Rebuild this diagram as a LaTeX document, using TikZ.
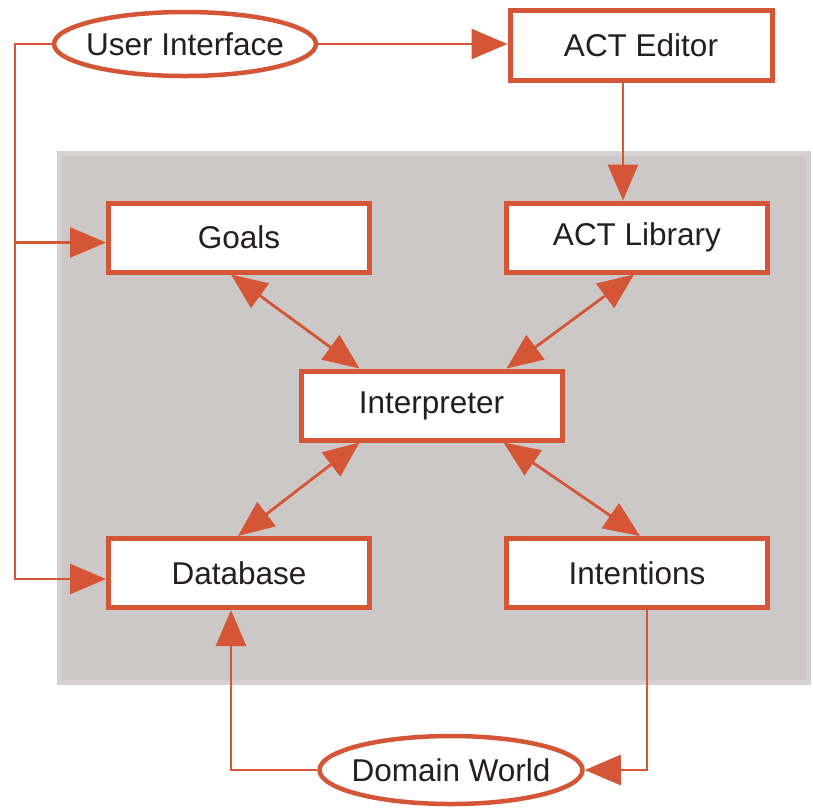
\documentclass[tikz,border=0pt]{standalone}
\usepackage{fontspec}
\setmainfont{Liberation Sans}
\usetikzlibrary{arrows.meta,calc,shapes.geometric}
\definecolor{ored}{RGB}{213,85,55}
\definecolor{grayin}{RGB}{204,200,199}
\definecolor{grayedge}{RGB}{213,209,208}
\definecolor{txt}{RGB}{35,31,32}
\newcommand{\ovaltext}[1]{\makebox[0pt]{#1}}
\tikzset{
  stepbox/.style={draw=ored, line width=5pt, fill=white, minimum width=261pt, minimum height=69pt, inner sep=0pt, text=txt, font=\fontsize{31.5}{36}\selectfont},
  ovalnode/.style={ellipse, draw=ored, line width=4.5pt, fill=white, minimum width=262pt, minimum height=64pt, inner sep=0pt, text=txt, font=\fontsize{31.5}{36}\selectfont},
  conn/.style={draw=ored, line width=2.8pt},
  tipr/.style={-{Triangle[length=36pt,width=30pt]}},
  tipb/.style={{Triangle[length=36pt,width=30pt]}-{Triangle[length=36pt,width=30pt]}}
}
\begin{document}
\begin{tikzpicture}[x=1pt,y=-1pt]
\useasboundingbox (0,0) rectangle (813,807);
\fill[grayedge] (57,151) rectangle (811,685);
\fill[grayin] (62,156) rectangle (806,680);

\node[ovalnode] (ui) at (185,44) {\ovaltext{User Interface}};
\node[stepbox, minimum width=262pt, minimum height=70pt] (editor) at (641,45) {ACT Editor};
\node[stepbox] (goals) at (239,237.5) {Goals};
\node[stepbox] (library) at (637,237.5) {ACT Library};
\node[stepbox] (interp) at (431.5,405.5) {Interpreter};
\node[stepbox] (db) at (239,573) {Database};
\node[stepbox] (intentions) at (637,573) {Intentions};
\node[ovalnode, minimum width=263pt, minimum height=68pt] (dw) at (451,770) {\ovaltext{Domain World}};

\coordinate (bus) at (15,44);
\coordinate (gIn) at ($(goals.west)+(0,5)$);
\coordinate (dIn) at ($(db.west)+(0,6)$);
\coordinate (eS) at ($(editor.south)+(-18,0)$);
\coordinate (dOut) at ($(db.south)+(-8,0)$);
\coordinate (iOut) at ($(intentions.south)+(10,0)$);

\draw[conn,tipr] (ui.east) -- (ui.east -| editor.west);
\draw[conn,tipr] (eS) -- (eS |- library.north);
\draw[conn,tipr] (ui.west) -- (bus) |- (dIn);
\draw[conn,tipr] (bus |- gIn) -- (gIn);
\draw[conn,tipr] (dw.west) -| (dOut);
\draw[conn,tipr] (iOut) |- (dw.east);

\draw[conn,tipb] ($(goals.south)+(-8,0)$) -- ($(interp.north)+(-72,0)$);
\draw[conn,tipb] ($(library.south)+(-3,0)$) -- ($(interp.north)+(75,0)$);
\draw[conn,tipb] ($(interp.south)+(-72,0)$) -- ($(db.north)+(-1,0)$);
\draw[conn,tipb] ($(interp.south)+(72,0)$) -- ($(intentions.north)+(3,0)$);
\end{tikzpicture}
\end{document}
